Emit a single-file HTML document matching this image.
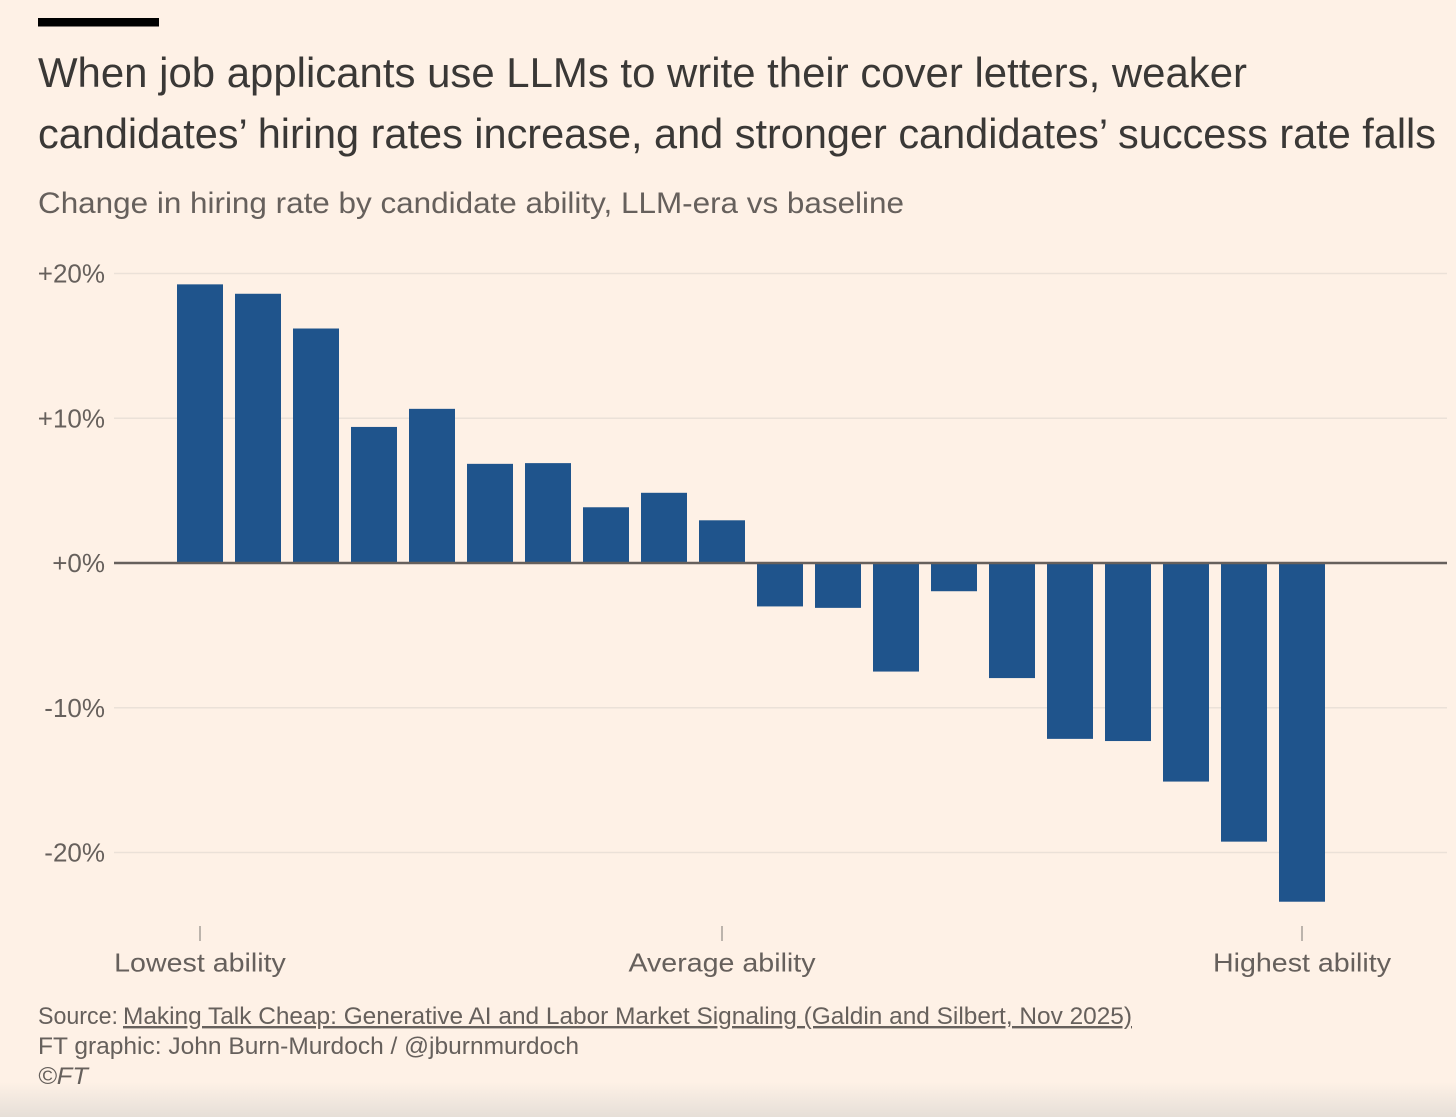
<!DOCTYPE html>
<html lang="en">
<head>
<meta charset="utf-8">
<title>Change in hiring rate by candidate ability</title>
<style>
html,body{margin:0;padding:0;background:#fef1e6;width:1456px;height:1117px;overflow:hidden}
svg{display:block}
text{font-family:"Liberation Sans",sans-serif}
.title{font-size:42px;fill:#3a3836}
.sub{font-size:30px;fill:#66605c}
.tick{font-size:26px;fill:#66605c}
.foot{font-size:24px;fill:#66605c}
</style>
</head>
<body>
<svg id="chart" xmlns="http://www.w3.org/2000/svg" width="1456" height="1117" viewBox="0 0 1456 1117">
  <defs>
    <linearGradient id="fade" x1="0" y1="0" x2="0" y2="1">
      <stop offset="0" stop-color="#e6dfd8" stop-opacity="0"/>
      <stop offset="1" stop-color="#e6dfd8" stop-opacity="1"/>
    </linearGradient>
  </defs>
  <rect x="0" y="0" width="1456" height="1117" fill="#fef1e6"/>
  <rect x="0" y="1082" width="1456" height="35" fill="url(#fade)"/>
  <rect x="38" y="18" width="121" height="8.5" fill="#000"/>
  <text class="title" x="38" y="87" textLength="1209" lengthAdjust="spacingAndGlyphs">When job applicants use LLMs to write their cover letters, weaker</text>
  <text class="title" x="38" y="148" textLength="1398" lengthAdjust="spacingAndGlyphs">candidates’ hiring rates increase, and stronger candidates’ success rate falls</text>
  <text class="sub" x="38" y="213" textLength="866" lengthAdjust="spacingAndGlyphs">Change in hiring rate by candidate ability, LLM-era vs baseline</text>
  <g id="grid"></g>
  <g id="bars"></g>
  <line id="zero" x1="114" x2="1447" stroke="#66605c" stroke-width="2.4"/>
  <g id="ylabels"></g>
  <g id="xaxis"></g>
  <text class="foot" x="38" y="1024" textLength="80" lengthAdjust="spacingAndGlyphs">Source:</text>
  <text class="foot" x="123" y="1024" textLength="1009" lengthAdjust="spacingAndGlyphs" text-decoration="underline">Making Talk Cheap: Generative AI and Labor Market Signaling (Galdin and Silbert, Nov 2025)</text>
  <text class="foot" x="38" y="1054" textLength="541" lengthAdjust="spacingAndGlyphs">FT graphic: John Burn-Murdoch / @jburnmurdoch</text>
  <text class="foot" x="38" y="1084" font-style="italic" textLength="50" lengthAdjust="spacingAndGlyphs">©FT</text>
</svg>
<script>
const abilityRanks = [1,2,3,4,5,6,7,8,9,10,11,12,13,14,15,16,17,18,19,20];
const hiringChange = [19.25,18.6,16.2,9.4,10.65,6.85,6.9,3.85,4.85,2.95,-3.0,-3.1,-7.5,-1.95,-7.95,-12.15,-12.3,-15.1,-19.25,-23.4];
const yTicks = [20,10,0,-10,-20];
const yTickLabels = ["+20%","+10%","+0%","-10%","-20%"];
const xTickRanks = [1,10,20];
const xTickLabels = ["Lowest ability","Average ability","Highest ability"];

const NS = "http://www.w3.org/2000/svg";
const yScale = v => 563 - v * 14.475;
const xBand = r => 177 + (r - 1) * 58;
const barW = 46;
const xLabelStretch = 1.1;

function svgEl(tag, parent, attrs) {
  const el = document.createElementNS(NS, tag);
  for (const k in attrs) el.setAttribute(k, attrs[k]);
  parent.appendChild(el);
  return el;
}

const grid = document.getElementById("grid");
const ylabels = document.getElementById("ylabels");
yTicks.forEach((t, i) => {
  const y = yScale(t);
  if (t !== 0) {
    const ln = svgEl("line", grid, {x1: 114, x2: 1447, y1: y, y2: y, stroke: "#ebe1d8", "stroke-width": 1.4});
    
    
  }
  const lb = svgEl("text", ylabels, {x: 105, y: y + 9, "text-anchor": "end", class: "tick"});
  
  
  lb.textContent = yTickLabels[i];
});

document.getElementById("zero").setAttribute("y1", yScale(0));
document.getElementById("zero").setAttribute("y2", yScale(0));

const bars = document.getElementById("bars");
hiringChange.forEach((v, i) => {
  const y0 = yScale(0), y1 = yScale(v);
  const r = svgEl("rect", bars, {
    x: xBand(abilityRanks[i]), y: Math.min(y0, y1), width: barW,
    height: Math.abs(y1 - y0), fill: "#1f548c"
  });
  
  
});

const xaxis = document.getElementById("xaxis");
xTickRanks.forEach((rank, i) => {
  const x = xBand(rank) + barW / 2;
  const tk = svgEl("line", xaxis, {x1: x, x2: x, y1: 926, y2: 941, stroke: "#a09a94", "stroke-width": 1.4});
  
  
  const lb = svgEl("text", xaxis, {x: x, y: 971.5, "text-anchor": "middle", class: "tick"});
  
  
  lb.textContent = xTickLabels[i];
  const w = lb.getComputedTextLength();
  lb.setAttribute("textLength", w * xLabelStretch);
  lb.setAttribute("lengthAdjust", "spacingAndGlyphs");
});
</script>
</body>
</html>
